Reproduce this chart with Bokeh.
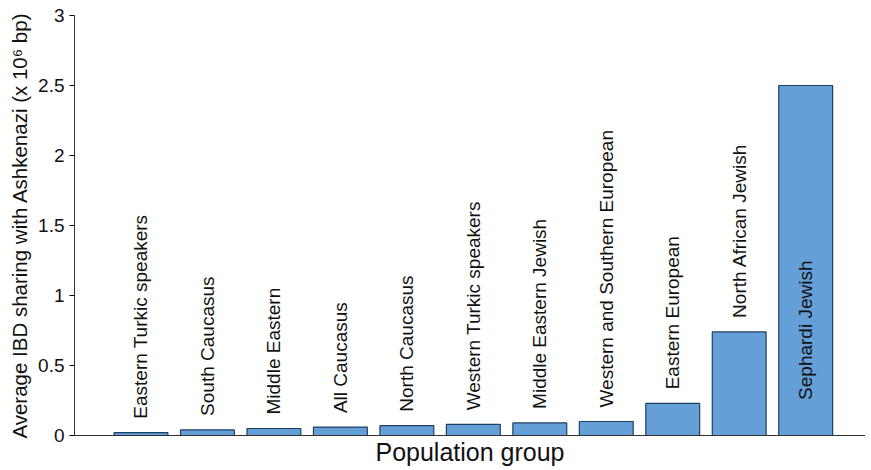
from bokeh.plotting import figure
from bokeh.models import ColumnDataSource, Range1d, FixedTicker
from bokeh.core.properties import value
from bokeh.embed import file_html
from bokeh.resources import INLINE

groups = ["Eastern Turkic speakers", "South Caucasus", "Middle Eastern", "All Caucasus",
          "North Caucasus", "Western Turkic speakers", "Middle Eastern Jewish",
          "Western and Southern European", "Eastern European", "North African Jewish",
          "Sephardi Jewish"]
sharing = [0.02, 0.04, 0.05, 0.06, 0.07, 0.08, 0.09, 0.10, 0.23, 0.74, 2.5]
y_ticks = [0, 0.5, 1, 1.5, 2, 2.5, 3]

FONT = "Liberation Sans"
idx = list(range(len(groups)))
src = ColumnDataSource(dict(x=idx[:-1], top=sharing[:-1], ly=[v + 0.1 for v in sharing[:-1]],
                            name=groups[:-1]))

p = figure(output_backend="svg", toolbar_location=None,
           x_range=Range1d(-1, 10.9), y_range=Range1d(0, 3),
           frame_width=791, frame_height=420, min_border_top=15, min_border_left=74,
           min_border_right=0, min_border_bottom=0)
p.vbar(x=idx, top=sharing, width=0.81, fill_color="#659fd7", line_color="#1f3f66", line_width=1.2)
p.text(x="x", y="ly", text="name", source=src, angle=1.5708, text_align="left",
       text_baseline="middle", text_font=value(FONT), text_font_size="19px", text_color="#111111")
p.text(x=[idx[-1]], y=[1.25], text=[groups[-1]], angle=1.5708, text_align="right",
       text_baseline="middle", text_font=value(FONT), text_font_size="19px", text_color="#111111")

p.grid.visible = False
p.outline_line_color = None
p.yaxis.ticker = FixedTicker(ticks=y_ticks)
p.yaxis.major_label_overrides = {0: "0", 1: "1", 2: "2", 3: "3"}
p.yaxis.axis_label = "Average IBD sharing with Ashkenazi (x 10\u2076 bp)"
p.yaxis.axis_label_text_font_style = "normal"
p.yaxis.axis_label_text_font = FONT
p.yaxis.axis_label_text_font_size = "20.5px"
p.yaxis.axis_label_text_color = "#111111"
p.yaxis.axis_label_standoff = 4
p.yaxis.major_label_text_font = FONT
p.yaxis.major_label_text_font_size = "19px"
p.yaxis.major_label_text_color = "#111111"
p.yaxis.major_tick_in = 0
p.yaxis.major_tick_out = 5
p.yaxis.minor_tick_line_color = None
p.xaxis.ticker = FixedTicker(ticks=[])
p.xaxis.major_label_text_font_size = "0px"
p.xaxis.major_tick_line_color = None
p.xaxis.minor_tick_line_color = None
p.xaxis.axis_label = "Population group"
p.xaxis.axis_label_text_font_style = "normal"
p.xaxis.axis_label_text_font = FONT
p.xaxis.axis_label_text_font_size = "25px"
p.xaxis.axis_label_text_color = "#111111"
p.xaxis.axis_label_standoff = 2
p.axis.axis_line_color = "#333333"

open("out.html", "w").write(file_html(p, INLINE))
